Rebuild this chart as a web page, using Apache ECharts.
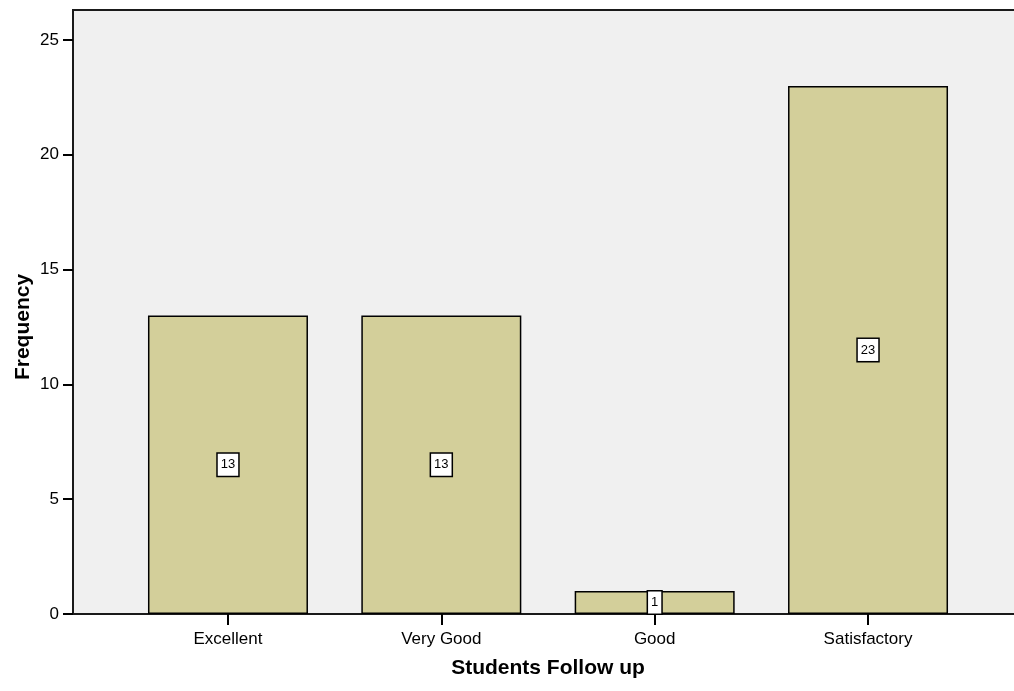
<!DOCTYPE html>
<html>
<head>
<meta charset="utf-8">
<script src="https://cdn.jsdelivr.net/npm/echarts@6/dist/echarts.min.js"></script>
<style>html,body{margin:0;padding:0;background:#fff}#c{width:1014px;height:691px}</style>
</head>
<body>
<div id="c"></div>
<script>
var categories = ['Excellent', 'Very Good', 'Good', 'Satisfactory'];
var frequency = [13, 13, 1, 23];
var yTicks = [0, 5, 10, 15, 20, 25];

var chart = echarts.init(document.getElementById('c'));
var FONT = '"Liberation Sans", Arial, sans-serif';
chart.setOption({
  animation: false,
  backgroundColor: '#ffffff',
  graphic: [{
    type: 'rect', z: -10, silent: true,
    shape: { x: 73, y: 10, width: 960, height: 604 },
    style: { fill: '#f0f0f0', stroke: '#1a1a1a', lineWidth: 2 }
  }],
  grid: { left: 121.3, right: 39.3, top: 40, bottom: 77, containLabel: false },
  xAxis: {
    type: 'category',
    data: categories,
    name: 'Students Follow up',
    nameLocation: 'middle',
    nameGap: 44,
    nameMoveOverlap: false,
    nameTextStyle: { fontFamily: FONT, fontSize: 21, fontWeight: 'bold', color: '#000' },
    axisLine: { show: false },
    axisTick: { show: true, alignWithLabel: true, length: 11, lineStyle: { color: '#000', width: 2 } },
    axisLabel: { fontFamily: FONT, fontSize: 17, color: '#000', margin: 17 },
    splitLine: { show: false }
  },
  yAxis: {
    type: 'value',
    min: yTicks[0],
    max: yTicks[yTicks.length - 1],
    interval: 5,
    offset: 48.3,
    name: 'Frequency',
    nameLocation: 'middle',
    nameGap: 39,
    nameMoveOverlap: false,
    nameRotate: 90,
    nameTextStyle: { fontFamily: FONT, fontSize: 21, fontWeight: 'bold', color: '#000' },
    axisLine: { show: false },
    axisTick: { show: true, length: 10, lineStyle: { color: '#000', width: 2 } },
    axisLabel: { fontFamily: FONT, fontSize: 17, color: '#000', margin: 14 },
    splitLine: { show: false }
  },
  series: [{
    type: 'bar',
    data: frequency,
    barWidth: 160,
    itemStyle: { color: '#d3cf9a', borderColor: '#000', borderWidth: 1.5 },
    label: {
      show: true,
      position: 'inside',
      fontFamily: FONT,
      fontSize: 13,
      color: '#000',
      backgroundColor: '#fff',
      borderColor: '#000',
      borderWidth: 1.5,
      padding: [5, 3, 4, 3]
    }
  }]
});
</script>
</body>
</html>
